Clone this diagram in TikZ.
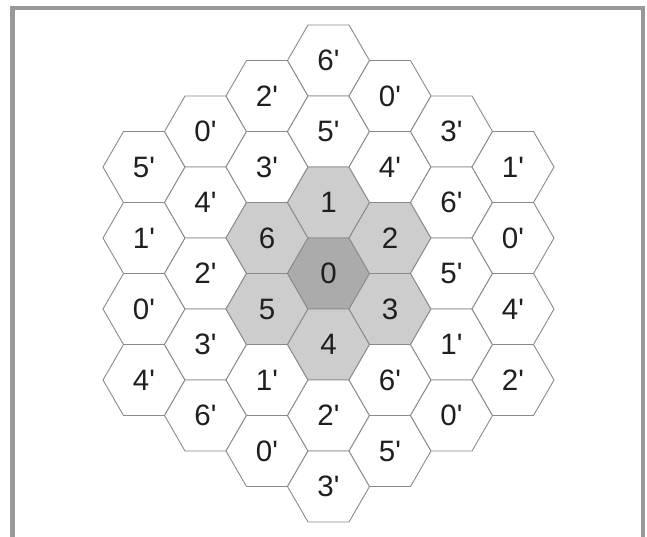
\documentclass[tikz,border=0pt]{standalone}
\usepackage{fontspec}
\setmainfont{Liberation Sans}
\usetikzlibrary{shapes.geometric}
\newcommand\prm{\textquotesingle}
\definecolor{hexline}{HTML}{8A8A8A}
\definecolor{ringfill}{HTML}{CDCDCD}
\definecolor{centerfill}{HTML}{ABABAB}
\definecolor{framegray}{HTML}{999999}
\tikzset{
  hexcell/.style={regular polygon, regular polygon sides=6, minimum size=82pt,
    inner sep=0pt, outer sep=0pt, draw=hexline, line width=0.9pt, fill=white,
    text=black!88, font=\fontsize{29.5}{31}\selectfont},
  ring/.style={fill=ringfill},
  core/.style={fill=centerfill},
  plain/.style={},
  frameline/.style={draw=framegray, line width=4.6pt}
}
\begin{document}
\begin{tikzpicture}[x=1pt,y=-1pt]
\useasboundingbox (0,0) rectangle (647,536);
\fill[white] (0,0) rectangle (647,536);
\coordinate (fa) at (12.5,540);
\coordinate (fb) at (12.5,8);
\coordinate (fc) at (643,8);
\coordinate (fd) at (643,540);
\draw[frameline] (fa) -- (fb) -- (fc) -- (fd);
\foreach \q/\k/\t/\s [count=\c] in {
  -3/-3/5\prm/plain, -3/-1/1\prm/plain, -3/1/0\prm/plain, -3/3/4\prm/plain,
  -2/-4/0\prm/plain, -2/-2/4\prm/plain, -2/0/2\prm/plain, -2/2/3\prm/plain, -2/4/6\prm/plain,
  -1/-5/2\prm/plain, -1/-3/3\prm/plain, -1/-1/6/ring, -1/1/5/ring, -1/3/1\prm/plain, -1/5/0\prm/plain,
  0/-6/6\prm/plain, 0/-4/5\prm/plain, 0/-2/1/ring, 0/0/0/core, 0/2/4/ring, 0/4/2\prm/plain, 0/6/3\prm/plain,
  1/-5/0\prm/plain, 1/-3/4\prm/plain, 1/-1/2/ring, 1/1/3/ring, 1/3/6\prm/plain, 1/5/5\prm/plain,
  2/-4/3\prm/plain, 2/-2/6\prm/plain, 2/0/5\prm/plain, 2/2/1\prm/plain, 2/4/0\prm/plain,
  3/-3/1\prm/plain, 3/-1/0\prm/plain, 3/1/4\prm/plain, 3/3/2\prm/plain}
  \node[hexcell,\s] (h\c) at ({328.5+61.5*\q},{273.5+35.5*\k}) {\t};
\end{tikzpicture}
\end{document}
